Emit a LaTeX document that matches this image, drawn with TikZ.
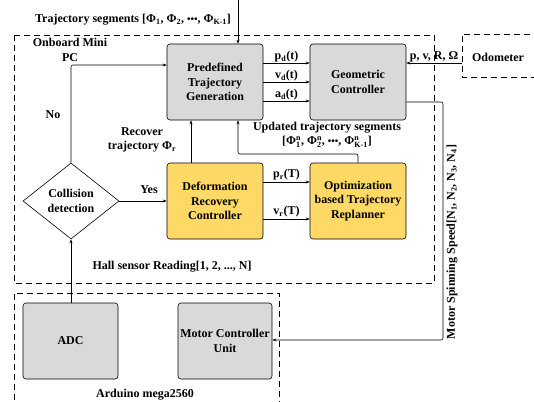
\documentclass[tikz,border=0pt]{standalone}
\usepackage{amsmath}
\usepackage{fontspec}
\setmainfont{Liberation Serif}
\usetikzlibrary{arrows.meta,shapes.geometric}
\definecolor{boxgray}{HTML}{D9D9D9}
\definecolor{boxyellow}{HTML}{FFD966}
\newcommand\phisn[1]{Φ$^{\text{n}}_{\text{#1}}$}
\newcommand\tdots{{\fontsize{10}{10}\selectfont•••}}
\begin{document}
\begin{tikzpicture}[x=1pt,y=-1pt,
  font=\bfseries\fontsize{12}{14.5}\selectfont,
  blk/.style={draw, rounded corners=3pt, minimum width=96pt, minimum height=76pt, align=center, inner sep=1pt, line width=0.6pt},
  graybox/.style={blk, fill=boxgray},
  yellowbox/.style={blk, fill=boxyellow},
  dashbox/.style={draw, dash pattern=on 6pt off 4pt, line width=0.7pt},
  conn/.style={-{Stealth[length=4pt,width=3pt]}, line width=0.6pt, rounded corners=2pt},
  lbl/.style={inner sep=0pt, align=center}]
\useasboundingbox (0,0) rectangle (534,401);
% dashed groups
\draw[dashbox] (14,35) rectangle (434,283);
\draw[dashbox] (14,410) -- (14,293) -- (279,293) -- (279,410);
\draw[dashbox] (540,34) -- (462,34) -- (462,77) -- (540,77);
% blocks
\node[graybox] (pre) at (215,82) {Predefined\\Trajectory\\Generation};
\node[graybox] (geo) at (358,82) {Geometric\\Controller};
\node[yellowbox] (def) at (215,201) {Deformation\\Recovery\\Controller};
\node[yellowbox] (opt) at (358,201) {Optimization\\based Trajectory\\Replanner};
\node[draw, diamond, aspect=1.26, minimum width=96pt, minimum height=76pt, inner sep=0pt, align=center, line width=0.6pt] (coll) at (71,201) {Collision\\detection};
\node[graybox, minimum width=95pt] (adc) at (70.5,341) {ADC};
\node[graybox, minimum width=94pt] (mcu) at (225,341) {Motor Controller\\Unit};
\node[lbl] (odo) at (498,57) {Odometer};
\coordinate (odoin) at (462,63);
% texts
\node[lbl] (trajseg) at (133,20) {Trajectory segments [Φ\textsubscript{1}, Φ\textsubscript{2}, \tdots, Φ\textsubscript{K-1}]};
\node[lbl] (onboard) at (70,50) {Onboard Mini\\PC};
\node[lbl] (no) at (53,115) {No};
\node[lbl] (yes) at (149,190) {Yes};
\node[lbl] (rec) at (142,140) {Recover\\trajectory Φ\textsubscript{r}};
\node[lbl] (upd) at (327,135) {Updated trajectory segments\\{}[\phisn{1}, \phisn{2}, \tdots, \phisn{K-1}]};
\node[lbl] (pd) at (286.5,57) {p\textsubscript{d}(t)};
\node[lbl] (vd) at (286.5,76) {v\textsubscript{d}(t)};
\node[lbl] (ad) at (286.5,95) {a\textsubscript{d}(t)};
\node[lbl] (pr) at (286.5,175) {p\textsubscript{r}(T)};
\node[lbl] (vr) at (286.5,212) {v\textsubscript{r}(T)};
\node[lbl] (state) at (434,57) {p, v, R, Ω};
\node[lbl] (hall) at (172,267) {Hall sensor Reading[1, 2, ..., N]};
\node[lbl, rotate=90] (mss) at (452,242) {Motor Spinning Speed[N\textsubscript{1}, N\textsubscript{2}, N\textsubscript{3}, N\textsubscript{4}]};
\node[lbl] (ard) at (145,395) {Arduino mega2560};
% connectors
\coordinate (topin) at (238,0);
\draw[conn] (topin) -- (pre.north -| topin);
\draw[conn] (coll.north) |- (pre.west |- 0,65);
\draw[conn] (coll.east) -- (def.west);
\draw[conn] (def.north -| 191,0) -- (pre.south -| 191,0);
\draw[conn] (opt.north) -- (358,154) -- (238,154) -- (pre.south -| 238,0);
\draw[conn] (pre.east |- 0,63) -- (geo.west |- 0,63);
\draw[conn] (pre.east |- 0,82) -- (geo.west |- 0,82);
\draw[conn] (pre.east |- 0,101) -- (geo.west |- 0,101);
\draw[conn] (def.east |- 0,182) -- (opt.west |- 0,182);
\draw[conn] (def.east |- 0,219) -- (opt.west |- 0,219);
\draw[conn] (odoin) -- (geo.east |- odoin);
\draw[conn] (geo.east |- 0,102) -- (443,102) -- (443,340) -- (mcu.east |- 0,340);
\draw[conn] (adc.north -| coll.south) -- (coll.south);
\end{tikzpicture}
\end{document}
